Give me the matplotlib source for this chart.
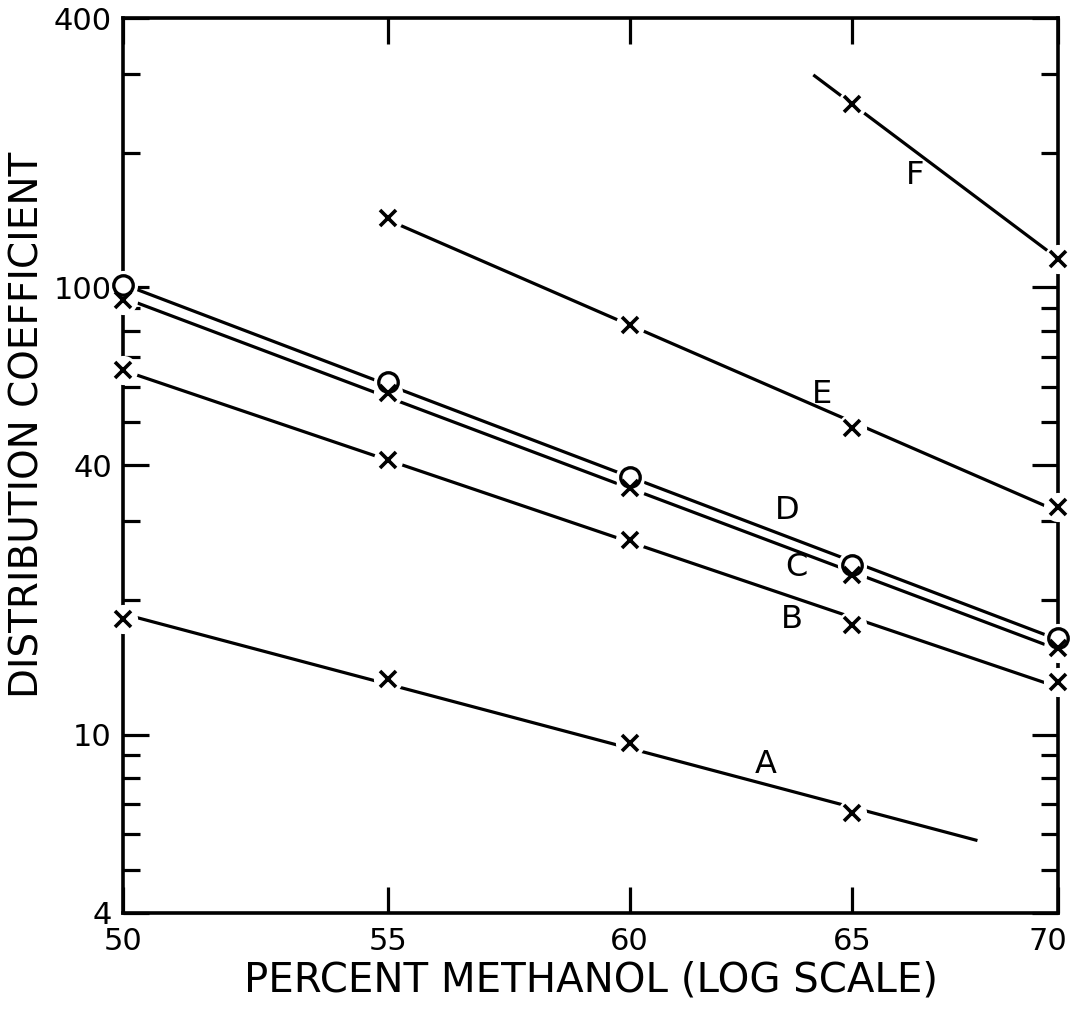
import numpy as np
import matplotlib
matplotlib.use("Agg")
import matplotlib.pyplot as plt
import matplotlib.transforms as mtransforms
from matplotlib.ticker import FixedLocator, FixedFormatter, NullLocator

# ---- data ----
x_all = [50, 55, 60, 65, 70]
A_x = [50, 55, 60, 65]
A_y = [18.2, 13.3, 9.6, 6.7]
B_x = x_all
B_y = [65.4, 41.2, 27.3, 17.6, 13.1]
C_x = x_all
C_y = [93.7, 58.1, 35.6, 22.8, 15.6]
D_x = x_all
D_y = [101.0, 61.5, 37.7, 24.0, 16.5]
E_x = [55, 60, 65, 70]
E_y = [142.9, 82.4, 48.5, 32.3]
F_x = [65, 70]
F_y = [257.0, 116.0]

# extent of each fitted line (percent methanol)
line_range = {
    "A": (50, 68.0),
    "B": (50, 70),
    "C": (50, 70),
    "D": (50, 70),
    "E": (55, 70),
    "F": (64.1, 70),
}
series = {
    "A": (A_x, A_y, "x"),
    "B": (B_x, B_y, "x"),
    "C": (C_x, C_y, "x"),
    "D": (D_x, D_y, "o"),
    "E": (E_x, E_y, "x"),
    "F": (F_x, F_y, "x"),
}
label_pos = {
    "A": (63.0, 8.57),
    "B": (63.6, 18.1),
    "C": (63.7, 23.7),
    "D": (63.5, 31.8),
    "E": (64.3, 57.5),
    "F": (66.5, 178.0),
}

x_ticks = [50, 55, 60, 65, 70]
x_ticklabels = ["50", "55", "60", "65", "70"]
y_major = [4, 10, 40, 100, 400]
y_major_labels = ["4", "10", "40", "100", "400"]
y_minor = [5, 6, 7, 8, 9, 20, 30, 50, 60, 70, 80, 90, 200, 300]

# ---- figure ----
fig = plt.figure(figsize=(10.74, 10.10), dpi=100)
ax = fig.add_axes([123 / 1074, 1 - 913 / 1010, (1058 - 123) / 1074, (913 - 18) / 1010])
ax.set_xscale("log")
ax.set_yscale("log")
ax.set_xlim(50, 70)
ax.set_ylim(4, 400)

lw = 2.3
for name, (xs, ys, mk) in series.items():
    lx = np.log10(xs)
    ly = np.log10(ys)
    slope, icpt = np.polyfit(lx, ly, 1)
    x0, x1 = line_range[name]
    xe = np.array([x0, x1])
    ye = 10 ** (icpt + slope * np.log10(xe))
    ax.plot(xe, ye, color="black", lw=lw, zorder=2, solid_capstyle="butt")

# white halos around markers (line gaps)
for name, (xs, ys, mk) in series.items():
    ax.plot(xs, ys, linestyle="none", marker="o", markersize=21,
            markerfacecolor="white", markeredgecolor="none",
            zorder=3, clip_on=False)
for name, (xs, ys, mk) in series.items():
    if mk == "x":
        ax.plot(xs, ys, linestyle="none", marker="x", markersize=11,
                markeredgewidth=2.6, color="black", zorder=4, clip_on=False)
    else:
        ax.plot(xs, ys, linestyle="none", marker="o", markersize=14,
                markeredgewidth=2.4, markerfacecolor="none",
                markeredgecolor="black", zorder=4, clip_on=False)

for name, (lxp, lyp) in label_pos.items():
    ax.text(lxp, lyp, name, fontsize=23, ha="center", va="center",
            family="DejaVu Sans", zorder=5)

# ticks
ax.xaxis.set_major_locator(FixedLocator(x_ticks))
ax.xaxis.set_major_formatter(FixedFormatter(x_ticklabels))
ax.xaxis.set_minor_locator(NullLocator())
ax.yaxis.set_major_locator(FixedLocator(y_major))
ax.yaxis.set_major_formatter(FixedFormatter(y_major_labels))
ax.yaxis.set_minor_locator(FixedLocator(y_minor))
ax.yaxis.set_minor_formatter(FixedFormatter([]))

ax.tick_params(axis="both", which="major", direction="in", length=19,
               width=2.3, labelsize=22, top=True, right=True)
ax.tick_params(axis="y", which="minor", direction="in", length=12,
               width=2.3, left=True, right=True)
ax.tick_params(axis="x", which="major", pad=10)
ax.tick_params(axis="y", which="major", pad=8)

for s in ax.spines.values():
    s.set_linewidth(2.6)

ax.set_xlabel("PERCENT METHANOL (LOG SCALE)", fontsize=29, labelpad=3)
ax.set_ylabel("DISTRIBUTION COEFFICIENT", fontsize=28)
ax.yaxis.set_label_coords(-0.082, 0.545)

fig.canvas.draw()
# nudge the last x label inward so it stays on the canvas
last = ax.get_xticklabels()[-1]
last.set_transform(last.get_transform() +
                   mtransforms.ScaledTranslation(-10 / 100, 0, fig.dpi_scale_trans))

fig.savefig("out.png", dpi=100)
